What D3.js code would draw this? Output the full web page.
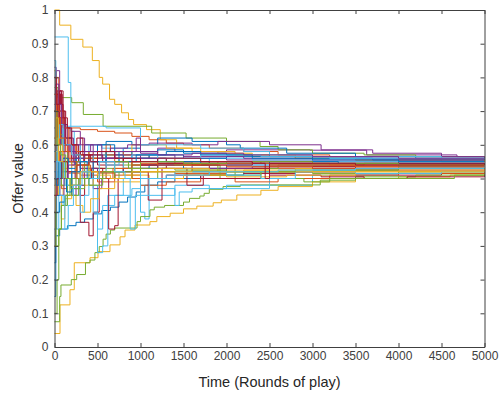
<!DOCTYPE html>
<html>
<head>
<meta charset="utf-8">
<script src="https://cdn.jsdelivr.net/npm/d3@7"></script>
<style>
  body { margin: 0; background: #fff; }
  svg { display: block; font-family: "Liberation Sans", Arial, sans-serif; }
</style>
</head>
<body>
<svg id="chart"></svg>
<script>
// tick values
const xTicks = [0, 500, 1000, 1500, 2000, 2500, 3000, 3500, 4000, 4500, 5000];
const yTicks = [0, 0.1, 0.2, 0.3, 0.4, 0.5, 0.6, 0.7, 0.8, 0.9, 1];

// MATLAB default colour order
const lineColors = ["#0072BD", "#D95319", "#EDB120", "#7E2F8E", "#77AC30", "#4DBEEE", "#A2142F"];

// each run: [round, offer value] at each change of offer (step after)
const offerRuns = [
  [[0,0.15],[15,0.33],[60,0.35],[150,0.36],[250,0.37],[350,0.38],[450,0.395],[550,0.405],[650,0.415],[750,0.43],[850,0.445],[950,0.46],[1050,0.48],[1200,0.49],[1400,0.5],[1700,0.51],[2200,0.52],[3000,0.525],[4000,0.53],[5000,0.53]],
  [[0,0.7],[30,0.62],[80,0.66],[150,0.65],[300,0.645],[500,0.64],[700,0.635],[900,0.625],[1100,0.615],[1300,0.605],[1500,0.6],[1800,0.59],[2200,0.58],[2600,0.57],[3200,0.565],[4000,0.56],[5000,0.555]],
  [[0,1.0],[60,0.955],[190,0.913],[330,0.89],[440,0.85],[520,0.8],[560,0.78],[640,0.735],[700,0.72],[780,0.695],[860,0.675],[920,0.66],[1070,0.645],[1230,0.615],[1420,0.59],[1600,0.58],[1900,0.575],[2300,0.565],[2800,0.56],[3500,0.555],[4500,0.55],[5000,0.55]],
  [[0,0.83],[20,0.7],[50,0.76],[80,0.62],[120,0.58],[200,0.6],[300,0.55],[400,0.57],[600,0.56],[800,0.58],[1000,0.575],[1200,0.59],[1400,0.58],[2000,0.585],[2970,0.584],[3630,0.57],[4680,0.565],[5000,0.565]],
  [[0,0.77],[40,0.74],[200,0.725],[335,0.69],[565,0.655],[1130,0.635],[1530,0.62],[2000,0.61],[2390,0.595],[2600,0.585],[3000,0.575],[3600,0.57],[4200,0.565],[5000,0.56]],
  [[0,0.92],[160,0.785],[190,0.64],[230,0.6],[300,0.5],[400,0.48],[500,0.35],[560,0.42],[700,0.45],[900,0.47],[1000,0.4],[1050,0.38],[1100,0.45],[1400,0.48],[1800,0.47],[2500,0.48],[3000,0.5],[4000,0.515],[5000,0.52]],
  [[0,0.5],[20,0.75],[70,0.72],[100,0.65],[130,0.6],[180,0.58],[250,0.55],[300,0.37],[400,0.33],[450,0.4],[520,0.52],[700,0.5],[900,0.54],[1200,0.53],[1600,0.52],[2200,0.515],[2800,0.52],[3500,0.51],[4500,0.515],[5000,0.515]],
  [[0,0.45],[30,0.52],[100,0.55],[250,0.57],[400,0.56],[600,0.58],[800,0.59],[1000,0.58],[1200,0.585],[1500,0.575],[2000,0.57],[2500,0.565],[3000,0.56],[4000,0.555],[5000,0.55]],
  [[0,0.4],[20,0.45],[60,0.52],[200,0.48],[300,0.5],[500,0.49],[700,0.51],[1000,0.52],[1400,0.515],[2000,0.53],[3000,0.535],[4000,0.54],[5000,0.54]],
  [[0,0.04],[64,0.125],[180,0.17],[230,0.25],[413,0.265],[506,0.283],[645,0.303],[762,0.327],[820,0.347],[936,0.362],[1110,0.372],[1190,0.387],[1345,0.397],[1500,0.41],[1655,0.418],[1845,0.428],[1940,0.436],[2120,0.451],[2400,0.465],[2600,0.476],[3000,0.49],[3500,0.5],[4000,0.505],[4600,0.51],[5000,0.512]],
  [[0,0.8],[25,0.65],[60,0.7],[100,0.6],[150,0.62],[220,0.55],[300,0.53],[450,0.47],[550,0.5],[700,0.52],[1000,0.54],[1500,0.55],[2000,0.545],[3000,0.55],[4000,0.545],[5000,0.545]],
  [[0,0.075],[60,0.15],[75,0.184],[195,0.2],[258,0.215],[360,0.25],[413,0.258],[470,0.28],[520,0.298],[565,0.32],[600,0.335],[650,0.347],[700,0.353],[960,0.372],[1000,0.387],[1110,0.407],[1160,0.415],[1280,0.42],[1500,0.43],[1570,0.441],[1690,0.448],[1740,0.456],[1800,0.468],[1960,0.476],[2160,0.481],[3090,0.495],[3500,0.505],[4200,0.51],[5000,0.515]],
  [[0,0.3],[15,0.45],[40,0.58],[80,0.5],[120,0.55],[200,0.45],[300,0.5],[450,0.4],[500,0.28],[560,0.3],[620,0.45],[800,0.5],[1000,0.48],[1200,0.47],[1400,0.42],[1450,0.46],[1600,0.47],[2000,0.48],[2500,0.5],[3000,0.51],[4000,0.52],[5000,0.525]],
  [[0,0.7],[30,0.76],[80,0.7],[120,0.65],[180,0.6],[260,0.57],[350,0.55],[500,0.54],[600,0.56],[800,0.55],[1000,0.53],[1300,0.54],[1800,0.53],[2500,0.535],[3500,0.53],[5000,0.53]],
  [[0,0.5],[20,0.6],[80,0.62],[200,0.58],[350,0.6],[600,0.61],[900,0.6],[1200,0.62],[1600,0.61],[2000,0.6],[2160,0.59],[2700,0.575],[3500,0.565],[4200,0.56],[5000,0.555]],
  [[0,0.55],[30,0.5],[80,0.47],[150,0.516],[300,0.51],[500,0.516],[700,0.5],[1000,0.48],[1300,0.49],[1700,0.5],[2100,0.49],[2600,0.5],[3200,0.51],[4000,0.515],[5000,0.52]],
  [[0,0.82],[20,0.6],[50,0.45],[80,0.38],[120,0.44],[200,0.5],[300,0.48],[450,0.53],[600,0.52],[800,0.51],[1100,0.5],[1500,0.51],[2000,0.52],[2800,0.53],[4000,0.535],[5000,0.535]],
  [[0,0.6],[30,0.65],[70,0.55],[150,0.5],[200,0.45],[250,0.48],[350,0.55],[500,0.58],[700,0.56],[1000,0.57],[1400,0.56],[2000,0.555],[3000,0.56],[4000,0.555],[5000,0.55]],
  [[0,0.55],[20,0.68],[60,0.63],[100,0.58],[150,0.55],[250,0.52],[400,0.56],[600,0.55],[800,0.54],[1000,0.52],[1200,0.55],[1600,0.54],[1925,0.5],[2100,0.53],[2600,0.54],[3600,0.545],[5000,0.545]],
  [[0,0.2],[10,0.35],[50,0.45],[100,0.42],[150,0.5],[250,0.55],[400,0.6],[550,0.59],[800,0.57],[1000,0.56],[1300,0.55],[1800,0.56],[2300,0.555],[3000,0.55],[4000,0.55],[5000,0.55]],
  [[0,0.72],[40,0.68],[100,0.6],[160,0.55],[240,0.5],[300,0.45],[350,0.5],[430,0.53],[560,0.5],[630,0.35],[700,0.36],[740,0.5],[900,0.52],[1090,0.436],[1250,0.53],[1540,0.48],[1730,0.51],[2000,0.53],[2500,0.52],[3500,0.525],[5000,0.525]],
  [[0,0.25],[15,0.4],[60,0.43],[120,0.45],[200,0.47],[300,0.5],[500,0.52],[800,0.53],[1100,0.54],[1500,0.53],[2000,0.54],[3000,0.54],[4000,0.535],[5000,0.535]],
  [[0,0.65],[30,0.7],[60,0.6],[100,0.56],[200,0.54],[400,0.55],[600,0.6],[650,0.58],[800,0.57],[1100,0.56],[1400,0.55],[1900,0.545],[2500,0.54],[3500,0.54],[5000,0.54]],
  [[0,0.45],[40,0.5],[100,0.53],[200,0.56],[400,0.58],[600,0.57],[900,0.6],[1300,0.59],[1700,0.58],[2100,0.57],[2800,0.56],[3500,0.555],[5000,0.55]],
  [[0,0.75],[20,0.82],[60,0.7],[100,0.66],[150,0.62],[200,0.64],[300,0.6],[450,0.58],[650,0.59],[850,0.6],[1100,0.605],[1600,0.6],[1900,0.61],[2500,0.6],[3100,0.585],[3700,0.575],[4500,0.565],[5000,0.56]],
  [[0,0.1],[30,0.2],[50,0.35],[80,0.42],[150,0.48],[250,0.5],[400,0.53],[700,0.52],[1000,0.5],[1200,0.52],[1800,0.51],[2400,0.52],[3000,0.515],[4000,0.52],[5000,0.52]],
  [[0,0.65],[40,0.58],[100,0.655],[600,0.65],[1000,0.6],[1200,0.6],[1700,0.59],[2200,0.58],[2500,0.57],[3000,0.56],[3500,0.565],[4500,0.56],[5000,0.56]],
  [[0,0.55],[20,0.62],[50,0.75],[90,0.7],[130,0.62],[200,0.6],[280,0.55],[340,0.57],[450,0.53],[600,0.54],[800,0.52],[1000,0.5],[1300,0.51],[1700,0.5],[2500,0.51],[3100,0.505],[3600,0.5],[4100,0.505],[5000,0.51]],
  [[0,0.58],[30,0.55],[80,0.52],[150,0.55],[300,0.58],[500,0.6],[700,0.58],[900,0.56],[1100,0.57],[1500,0.56],[2000,0.565],[3000,0.56],[3700,0.555],[5000,0.555]],
  [[0,0.48],[20,0.55],[60,0.58],[150,0.6],[250,0.58],[400,0.56],[600,0.55],[900,0.54],[1200,0.545],[1800,0.55],[2400,0.545],[3200,0.54],[5000,0.54]],
  [[0,0.5],[50,0.48],[100,0.45],[250,0.42],[330,0.4],[420,0.44],[520,0.47],[700,0.49],[1000,0.5],[1500,0.51],[2000,0.505],[2700,0.51],[3500,0.52],[5000,0.525]],
  [[0,0.4],[20,0.5],[60,0.55],[120,0.58],[200,0.55],[300,0.53],[500,0.52],[800,0.53],[1200,0.54],[1600,0.53],[2300,0.535],[3000,0.53],[5000,0.53]],
  [[0,0.62],[40,0.55],[80,0.48],[120,0.5],[200,0.45],[280,0.47],[350,0.5],[500,0.52],[750,0.5],[900,0.55],[1400,0.54],[1900,0.52],[2400,0.5],[2900,0.49],[3200,0.5],[3750,0.5],[4650,0.51],[5000,0.51]],
  [[0,0.85],[15,0.6],[40,0.5],[70,0.55],[120,0.48],[200,0.52],[300,0.4],[350,0.45],[400,0.5],[600,0.55],[800,0.53],[1000,0.45],[1100,0.5],[1400,0.52],[2000,0.51],[2400,0.5],[2800,0.52],[3500,0.515],[4500,0.52],[5000,0.52]],
  [[0,0.6],[30,0.75],[60,0.68],[120,0.6],[200,0.56],[300,0.58],[450,0.55],[600,0.56],[800,0.55],[1000,0.56],[1300,0.55],[1800,0.545],[2500,0.545],[3500,0.545],[5000,0.545]],
  [[0,0.35],[25,0.45],[60,0.5],[100,0.56],[160,0.53],[250,0.56],[400,0.55],[600,0.57],[800,0.56],[1200,0.55],[1700,0.545],[2500,0.55],[3300,0.545],[5000,0.545]],
  [[0,0.62],[20,0.8],[50,0.7],[100,0.65],[160,0.6],[250,0.57],[350,0.56],[500,0.57],[700,0.55],[1000,0.545],[1500,0.54],[2000,0.535],[3000,0.53],[5000,0.53]],
  [[0,0.3],[15,0.58],[40,0.62],[90,0.55],[150,0.52],[250,0.54],[400,0.52],[700,0.53],[1000,0.52],[1600,0.525],[2500,0.52],[3500,0.525],[5000,0.53]],
  [[0,0.7],[15,0.78],[50,0.72],[80,0.66],[120,0.6],[180,0.58],[250,0.56],[350,0.58],[500,0.56],[700,0.57],[1000,0.56],[1500,0.565],[2200,0.56],[3000,0.555],[5000,0.555]],
  [[0,0.4],[15,0.3],[50,0.35],[80,0.42],[130,0.45],[180,0.5],[260,0.55],[350,0.52],[500,0.5],[700,0.52],[1000,0.53],[1400,0.525],[2000,0.52],[2800,0.525],[4000,0.53],[5000,0.53]],
  [[0,0.55],[30,0.62],[60,0.66],[100,0.6],[200,0.57],[300,0.55],[450,0.57],[600,0.54],[750,0.56],[900,0.57],[1200,0.56],[1700,0.57],[2400,0.565],[3200,0.56],[5000,0.56]],
  [[0,0.45],[30,0.5],[80,0.55],[150,0.52],[260,0.54],[400,0.57],[560,0.55],[800,0.56],[1000,0.54],[1200,0.545],[1600,0.54],[2300,0.55],[3000,0.545],[5000,0.54]],
  [[0,0.52],[20,0.48],[50,0.55],[90,0.5],[140,0.46],[200,0.52],[300,0.55],[380,0.5],[450,0.55],[600,0.58],[750,0.55],[950,0.57],[1300,0.58],[1700,0.57],[2300,0.56],[3000,0.555],[4000,0.55],[5000,0.55]],
  [[0,0.75],[25,0.68],[70,0.62],[130,0.58],[180,0.55],[260,0.5],[330,0.54],[420,0.52],[600,0.5],[680,0.53],[900,0.55],[1200,0.54],[1700,0.545],[2500,0.54],[3500,0.535],[5000,0.535]],
  [[0,0.6],[15,0.68],[45,0.55],[100,0.5],[180,0.48],[300,0.52],[500,0.51],[650,0.5],[900,0.52],[1200,0.53],[1800,0.52],[2200,0.525],[3000,0.52],[4000,0.52],[5000,0.525]],
  [[0,0.55],[20,0.5],[60,0.45],[110,0.5],[160,0.54],[230,0.6],[300,0.62],[350,0.58],[420,0.6],[550,0.56],[700,0.58],[950,0.62],[1000,0.58],[1200,0.57],[1600,0.575],[2200,0.57],[3000,0.565],[4000,0.56],[5000,0.56]],
  [[0,0.7],[30,0.6],[70,0.57],[130,0.5],[190,0.47],[280,0.5],[400,0.48],[560,0.52],[700,0.55],[860,0.53],[1000,0.55],[1500,0.545],[2000,0.55],[3000,0.545],[4000,0.54],[5000,0.54]],
  [[0,0.5],[20,0.55],[60,0.45],[120,0.35],[160,0.42],[220,0.48],[320,0.52],[420,0.5],[520,0.55],[700,0.52],[820,0.5],[880,0.35],[940,0.45],[1000,0.5],[1300,0.51],[1800,0.52],[2600,0.525],[3500,0.53],[5000,0.53]],
  [[0,0.8],[20,0.72],[60,0.76],[100,0.68],[150,0.65],[200,0.6],[260,0.62],[330,0.57],[420,0.55],[500,0.58],[700,0.56],[900,0.55],[1200,0.56],[1700,0.55],[2300,0.545],[2450,0.5],[2500,0.545],[3500,0.54],[5000,0.54]]
];

const width = 499, height = 393;
const margin = { top: 10, right: 14.5, bottom: 46, left: 54.5 };

const svg = d3.select("#chart")
  .attr("width", width)
  .attr("height", height);

const x = d3.scaleLinear().domain([0, 5000]).range([margin.left, width - margin.right]);
const y = d3.scaleLinear().domain([0, 1]).range([height - margin.bottom, margin.top]);
const color = d3.scaleOrdinal().domain(d3.range(lineColors.length)).range(lineColors);

// lines
const line = d3.line()
  .x(d => x(d[0]))
  .y(d => y(d[1]))
  .curve(d3.curveStepAfter);

svg.append("g")
  .selectAll("path")
  .data(offerRuns)
  .join("path")
    .attr("fill", "none")
    .attr("stroke", (d, i) => color(i % lineColors.length))
    .attr("stroke-width", 1)
    .attr("d", line);

// axes box with inward ticks on all four sides
const axisColor = "#404040";
const tickLen = 4;

const axisB = svg.append("g")
  .attr("transform", `translate(0,${y(0)})`)
  .call(d3.axisBottom(x).tickValues(xTicks).tickSizeInner(-tickLen).tickSizeOuter(0).tickPadding(4).tickFormat(d3.format("d")));
const axisT = svg.append("g")
  .attr("transform", `translate(0,${y(1)})`)
  .call(d3.axisTop(x).tickValues(xTicks).tickSizeInner(-tickLen).tickSizeOuter(0).tickFormat(""));
const axisL = svg.append("g")
  .attr("transform", `translate(${x(0)},0)`)
  .call(d3.axisLeft(y).tickValues(yTicks).tickSizeInner(-tickLen).tickSizeOuter(0).tickPadding(6).tickFormat(d3.format("~g")));
const axisR = svg.append("g")
  .attr("transform", `translate(${x(5000)},0)`)
  .call(d3.axisRight(y).tickValues(yTicks).tickSizeInner(-tickLen).tickSizeOuter(0).tickFormat(""));

[axisB, axisT, axisL, axisR].forEach(g => {
  g.select(".domain").attr("stroke", axisColor);
  g.selectAll(".tick line").attr("stroke", axisColor);
  g.selectAll(".tick text")
    .attr("fill", "#404040")
    .style("font-size", "12px")
    .style("font-family", "'Liberation Sans', Arial, sans-serif");
});

// axis labels
svg.append("text")
  .attr("x", (x(0) + x(5000)) / 2)
  .attr("y", 387)
  .attr("text-anchor", "middle")
  .attr("fill", "#262626")
  .style("font-size", "14.5px")
  .text("Time (Rounds of play)");

svg.append("text")
  .attr("transform", `translate(23,${(y(0) + y(1)) / 2}) rotate(-90)`)
  .attr("text-anchor", "middle")
  .attr("fill", "#262626")
  .style("font-size", "14.5px")
  .text("Offer value");
</script>
</body>
</html>
